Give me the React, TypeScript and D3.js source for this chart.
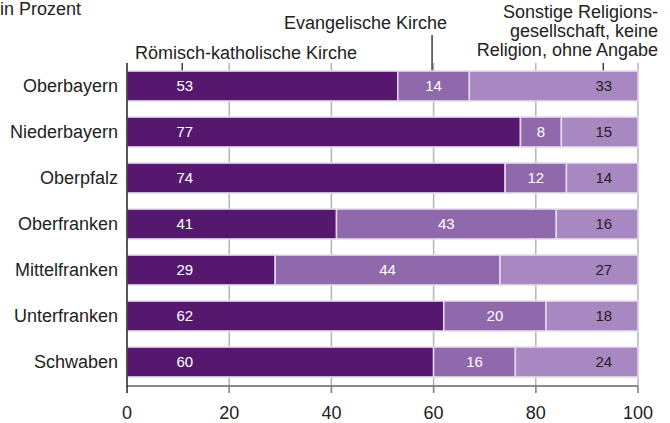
import React from 'react';
import * as d3 from 'd3';

// Religionszugehörigkeit nach Regierungsbezirk, in Prozent
const regions = ['Oberbayern', 'Niederbayern', 'Oberpfalz', 'Oberfranken', 'Mittelfranken', 'Unterfranken', 'Schwaben'];
const katholisch = [53, 77, 74, 41, 29, 62, 60];
const evangelisch = [14, 8, 12, 43, 44, 20, 16];
const sonstige = [33, 15, 14, 16, 27, 18, 24];
const xTicks = [0, 20, 40, 60, 80, 100];

const seriesNames = ['Römisch-katholische Kirche', 'Evangelische Kirche', 'Sonstige'];
const colors = ['#55186e', '#9068ac', '#a888c0'];
const labelColors = ['#ffffff', '#ffffff', '#222222'];

const W = 670;
const H = 423;
const font = '"Liberation Sans", Arial, Helvetica, sans-serif';

const App = () => {
  const x = d3.scaleLinear().domain([0, 100]).range([127, 638]);
  const y = d3.scaleBand().domain(regions).range([63, 385]).paddingInner(0.35).paddingOuter(0.175);

  const table = regions.map((r, i) => ({ region: r, values: [katholisch[i], evangelisch[i], sonstige[i]] }));
  const stacked = table.map(row => {
    let acc = 0;
    return row.values.map((v, k) => {
      const seg = { k, v, x0: acc, x1: acc + v };
      acc += v;
      return seg;
    });
  });

  // where the value labels of series 1 and 3 sit (same as the leader lines)
  const katLabelAt = 11.3;
  const sonLabelAt = 93.3;
  const leaderKat = 10.8;
  const leaderEv = 59.7;
  const leaderSon = 93.2;

  const top = 63;
  const axisY = 386;
  const barTop = y(regions[0]);

  return (
    <svg width={W} height={H} style={{ position: 'absolute', left: 0, top: 0, fontFamily: font }}>
      <rect width={W} height={H} fill="#fff" />
      <text x={0} y={15} fontSize={18} fill="#222">in Prozent</text>

      {/* gridlines */}
      {xTicks.slice(1).map(t => (
        <line key={t} x1={x(t)} x2={x(t)} y1={top} y2={393} stroke="#b5b5b5" strokeWidth={1.5} />
      ))}

      {/* header labels and leader lines */}
      <text x={x(0) + 8} y={59} fontSize={18} fill="#222">{seriesNames[0]}</text>
      <line x1={x(leaderKat)} x2={x(leaderKat)} y1={barTop - 8} y2={barTop} stroke="#222" strokeWidth={1.3} />
      <text x={447} y={29} fontSize={18} fill="#222" textAnchor="end">{seriesNames[1]}</text>
      <line x1={x(leaderEv)} x2={x(leaderEv)} y1={35} y2={barTop} stroke="#222" strokeWidth={1.3} />
      <text fontSize={18} fill="#222" textAnchor="end">
        <tspan x={658} y={18}>Sonstige Religions-</tspan>
        <tspan x={658} y={37}>gesellschaft, keine</tspan>
        <tspan x={658} y={56}>Religion, ohne Angabe</tspan>
      </text>
      <line x1={x(leaderSon)} x2={x(leaderSon)} y1={barTop - 8} y2={barTop} stroke="#222" strokeWidth={1.3} />

      {/* bars */}
      {stacked.map((segs, i) => (
        <g key={regions[i]}>
          {segs.map(s => (
            <rect
              key={s.k}
              x={x(s.x0)}
              y={y(regions[i])}
              width={x(s.x1) - x(s.x0)}
              height={y.bandwidth()}
              fill={colors[s.k]}
              stroke="#e4dbec"
              strokeWidth={1.5}
            />
          ))}
          {segs.map(s => {
            const at = s.k === 0 ? katLabelAt : s.k === 2 ? sonLabelAt : (s.x0 + s.x1) / 2;
            return (
              <text
                key={'l' + s.k}
                x={x(at)}
                y={y(regions[i]) + y.bandwidth() / 2}
                dy="0.36em"
                textAnchor="middle"
                fontSize={15}
                fill={labelColors[s.k]}
              >
                {s.v}
              </text>
            );
          })}
          <text
            x={x(0) - 9}
            y={y(regions[i]) + y.bandwidth() / 2}
            dy="0.36em"
            textAnchor="end"
            fontSize={18}
            fill="#222"
          >
            {regions[i]}
          </text>
        </g>
      ))}

      {/* axes */}
      <line x1={x(0)} x2={x(100)} y1={axisY} y2={axisY} stroke="#666" strokeWidth={1.5} />
      {xTicks.slice(1).map(t => (
        <line key={'t' + t} x1={x(t)} x2={x(t)} y1={axisY} y2={393} stroke="#888" strokeWidth={1.5} />
      ))}
      <line x1={x(0)} x2={x(0)} y1={top} y2={393} stroke="#222" strokeWidth={1.5} />
      {xTicks.map(t => (
        <text key={'x' + t} x={x(t)} y={419} textAnchor="middle" fontSize={18} fill="#222">{t}</text>
      ))}
    </svg>
  );
};

export default App;
